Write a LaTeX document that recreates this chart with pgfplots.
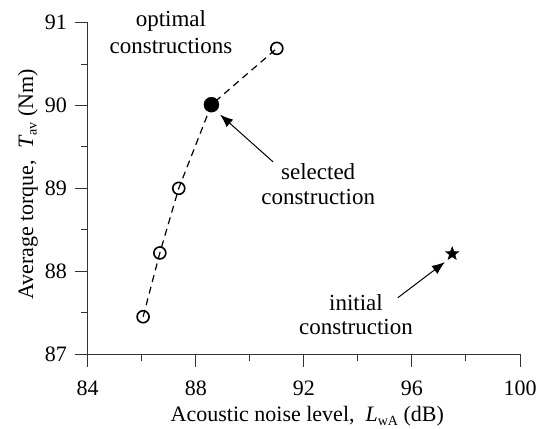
\documentclass[border=0pt]{standalone}
\usepackage{fontspec}
\setmainfont{Liberation Serif}
\usepackage{pgfplots}
\pgfplotsset{compat=1.18}
\usetikzlibrary{arrows.meta}
\pgfdeclareplotmark{fstar}{%
  \pgfpathmoveto{\pgfpointpolar{90}{\pgfplotmarksize}}%
  \pgfpathlineto{\pgfpointpolar{126}{0.42\pgfplotmarksize}}%
  \pgfpathlineto{\pgfpointpolar{162}{\pgfplotmarksize}}%
  \pgfpathlineto{\pgfpointpolar{198}{0.42\pgfplotmarksize}}%
  \pgfpathlineto{\pgfpointpolar{234}{\pgfplotmarksize}}%
  \pgfpathlineto{\pgfpointpolar{270}{0.42\pgfplotmarksize}}%
  \pgfpathlineto{\pgfpointpolar{306}{\pgfplotmarksize}}%
  \pgfpathlineto{\pgfpointpolar{342}{0.42\pgfplotmarksize}}%
  \pgfpathlineto{\pgfpointpolar{18}{\pgfplotmarksize}}%
  \pgfpathlineto{\pgfpointpolar{54}{0.42\pgfplotmarksize}}%
  \pgfpathclose\pgfusepathqfillstroke}
\begin{document}
\fontsize{23}{28}\selectfont
\begin{tikzpicture}
\begin{axis}[name=ax,
 width=432.3pt, height=331.3pt, scale only axis,
 xmin=84, xmax=100, ymin=87, ymax=91,
 axis lines=left, axis line style={-, line width=1pt, black!80},
 xtick={84,88,92,96,100}, ytick={87,88,89,90,91},
 minor xtick={86,90,94,98}, minor ytick={87.5,88.5,89.5,90.5},
 tick align=outside, major tick length=13pt, minor tick length=7pt,
 every tick/.style={line width=1pt, black!80},
 /pgf/number format/assume math mode=true,
 tick label style={font=\fontsize{22}{26}\selectfont},
 xticklabel style={yshift=-5.7pt},
 yticklabel style={xshift=0pt},
 xlabel={Acoustic noise level,\ \ \textit{L}\raisebox{-0.35ex}{\fontsize{14}{14}\selectfont wA} (dB)},
 ylabel={Average torque,\ \ \textit{T}\raisebox{-0.35ex}{\fontsize{14}{14}\selectfont av} (Nm)},
 label style={font=\fontsize{22}{26}\selectfont},
 xlabel style={at={(axis description cs:0.508,-0.188)}, anchor=center},
 ylabel style={at={(axis description cs:-0.1386,0.512)}, anchor=center},
 clip=false,
]
\addplot[black, line width=1.2pt, dash pattern=on 7pt off 5pt, mark=o, mark size=6pt,
  mark options={solid, fill=white, line width=1.6pt}]
  coordinates {(86.05,87.45)(86.67,88.22)(87.37,89.0)(88.58,90.01)(91.0,90.69)};
\addplot[only marks, black, mark=*, mark size=7.5pt] coordinates {(88.58,90.01)};
\addplot[only marks, black, mark=fstar, mark size=7pt, mark options={line width=0.4pt}] coordinates {(97.49,88.21)};
\node[anchor=base, font=\fontsize{23}{27}\selectfont] at (axis cs:87.08,90.95) {optimal};
\node[anchor=base, font=\fontsize{23}{27}\selectfont] at (axis cs:87.08,90.63) {constructions};
\node[anchor=base, font=\fontsize{23}{27}\selectfont] at (axis cs:92.53,89.11) {selected};
\node[anchor=base, font=\fontsize{23}{27}\selectfont] at (axis cs:92.53,88.80) {construction};
\node[anchor=base, font=\fontsize{23}{27}\selectfont] at (axis cs:93.93,87.53) {initial};
\node[anchor=base, font=\fontsize{23}{27}\selectfont] at (axis cs:93.93,87.23) {construction};
\draw[-{Latex[length=13pt,width=10pt]}, line width=1pt] (axis cs:90.86,89.32) -- (axis cs:88.90,89.89);
\draw[-{Latex[length=13pt,width=10pt]}, line width=1pt] (axis cs:95.48,87.68) -- (axis cs:97.22,88.11);
\end{axis}
\pgfresetboundingbox
\path ([shift={(-87.7pt,-74pt)}]ax.south west) rectangle ([shift={(17pt,22.7pt)}]ax.north east);
\end{tikzpicture}
\end{document}
